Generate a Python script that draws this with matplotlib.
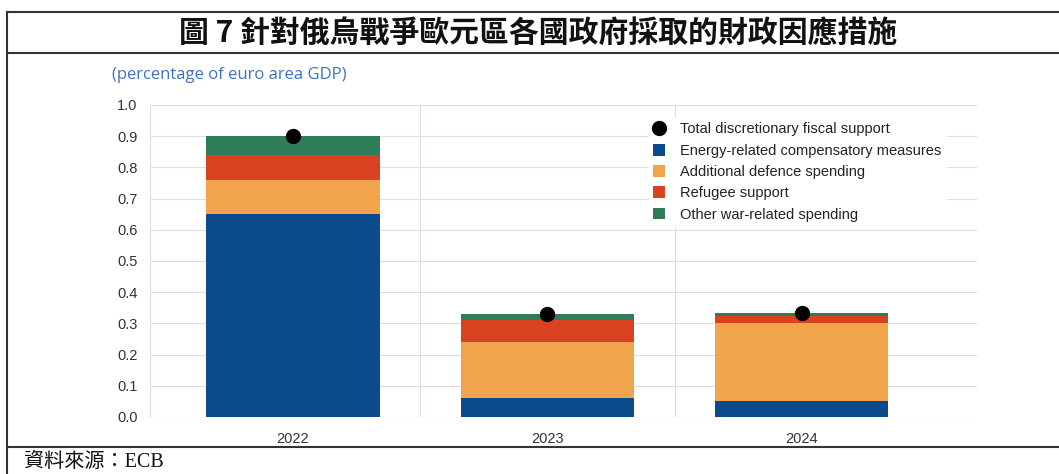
import matplotlib
matplotlib.use("Agg")
import matplotlib.pyplot as plt
from matplotlib.lines import Line2D
import numpy as np

plt.rcParams['font.family'] = ['Liberation Sans', 'DejaVu Sans']

years = ["2022", "2023", "2024"]
energy = [0.65, 0.06, 0.05]
defence = [0.11, 0.18, 0.25]
refugee = [0.08, 0.07, 0.025]
other = [0.06, 0.02, 0.008]
total = [0.90, 0.33, 0.333]

series_names = ["Energy-related compensatory measures", "Additional defence spending",
                "Refugee support", "Other war-related spending"]
total_name = "Total discretionary fiscal support"
yticks = [0.0, 0.1, 0.2, 0.3, 0.4, 0.5, 0.6, 0.7, 0.8, 0.9, 1.0]

title_text = "圖 7 針對俄烏戰爭歐元區各國政府採取的財政因應措施"
unit_text = "(percentage of euro area GDP)"
source_text = "資料來源：ECB"

colors = ["#0b4a8b", "#f1a44c", "#da4120", "#2f7c58"]

fig = plt.figure(figsize=(10.59, 4.74), dpi=100)
ax = fig.add_axes([0.1416, 0.1203, 0.7810, 0.6582])

x = np.arange(len(years))
bottom = np.zeros(len(years))
bar_handles = []
for vals, c, name in zip([energy, defence, refugee, other], colors, series_names):
    h = ax.bar(x, vals, width=0.68, bottom=bottom, color=c, label=name, zorder=2, linewidth=0)
    bar_handles.append(h)
    bottom += np.array(vals)

dots, = ax.plot(x, total, "o", color="black", markersize=10, zorder=3, label=total_name)

ax.set_xlim(-0.562, 2.688)
ax.set_ylim(0, 1.0)
ax.set_yticks(yticks)
ax.set_yticklabels([f"{v:.1f}" for v in yticks])
ax.set_xticks(x)
ax.set_xticklabels(years)
ax.set_xticks([0.5, 1.5], minor=True)
ax.tick_params(axis="both", which="both", length=0, labelsize=10.5, colors="#333333")
ax.tick_params(axis="y", pad=9)
ax.tick_params(axis="x", pad=11)
ax.grid(axis="y", which="major", color="#e2dce2", linewidth=0.8, zorder=0)
ax.grid(axis="x", which="minor", color="#e2dce2", linewidth=0.8, zorder=0)
for s in ["top", "right", "bottom"]:
    ax.spines[s].set_visible(False)
ax.spines["left"].set_color("#e2dce2")
ax.spines["left"].set_linewidth(0.8)

leg = ax.legend([dots] + bar_handles, [total_name] + series_names,
                loc="upper left", bbox_to_anchor=(0.603, 0.958), frameon=True,
                fontsize=10.5, handlelength=0.85, handleheight=0.85, handletextpad=1.0,
                labelspacing=0.5, borderaxespad=0, borderpad=0.3)
leg.get_frame().set_facecolor("white")
leg.get_frame().set_edgecolor("white")
leg.get_frame().set_alpha(1.0)
for t in leg.get_texts():
    t.set_color("#222222")

# Page frame around the figure
frame_kw = dict(color="#333333", linewidth=1.5, transform=fig.transFigure)
fig.add_artist(Line2D([0.0066, 1.0], [0.9747, 0.9747], **frame_kw))
fig.add_artist(Line2D([0.0066, 1.0], [0.888, 0.888], **frame_kw))
fig.add_artist(Line2D([0.0066, 1.0], [0.057, 0.057], **frame_kw))
fig.add_artist(Line2D([0.0066, 0.0066], [0.0, 0.9747], **frame_kw))

fig.text(0.508, 0.931, title_text, ha="center", va="center", fontsize=21.5,
         fontweight="bold", family=["Noto Sans CJK TC", "DejaVu Sans"], color="#111111")
fig.text(0.106, 0.842, unit_text, ha="left", va="center", fontsize=12,
         family=["Open Sans", "DejaVu Sans"], color="#3c73c0")
fig.text(0.023, 0.025, source_text, ha="left", va="center", fontsize=14.5,
         family=["Liberation Serif", "Noto Sans CJK TC"], color="#111111")

fig.savefig("out.png", dpi=100)
